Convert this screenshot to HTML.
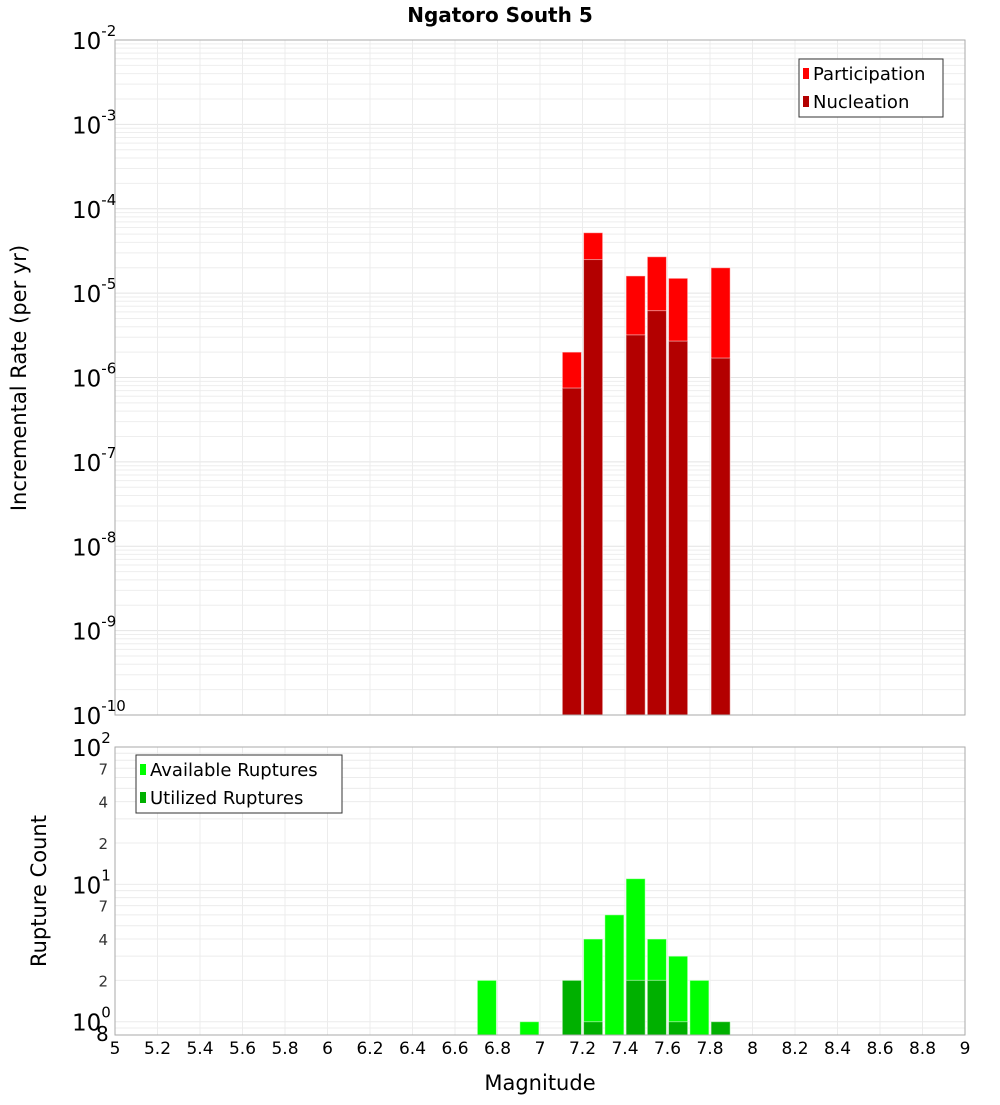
<!DOCTYPE html>
<html><head><meta charset="utf-8"><style>
html,body{margin:0;padding:0;background:#fff;}
svg text{font-family:"DejaVu Sans","Liberation Sans",sans-serif;}
</style></head><body>
<svg id="c" width="1000" height="1100" xmlns="http://www.w3.org/2000/svg">
<text x="500" y="22" text-anchor="middle" font-size="20" font-weight="bold">Ngatoro South 5</text>
<text transform="translate(26,378) rotate(-90)" text-anchor="middle" font-size="21">Incremental Rate (per yr)</text>
<text transform="translate(46,891) rotate(-90)" text-anchor="middle" font-size="21">Rupture Count</text>
<text x="540" y="1090" text-anchor="middle" font-size="21">Magnitude</text>
</svg>
<script>
const partBins=[7.15,7.25,7.45,7.55,7.65,7.85];
const partVals=[2e-6,5.2e-5,1.6e-5,2.7e-5,1.5e-5,2.0e-5];
const nuclBins=[7.15,7.25,7.45,7.55,7.65,7.85];
const nuclVals=[7.5e-7,2.5e-5,3.2e-6,6.2e-6,2.7e-6,1.7e-6];
const availBins=[6.75,6.95,7.15,7.25,7.35,7.45,7.55,7.65,7.75,7.85];
const availVals=[2,1,2,4,6,11,4,3,2,1];
const utilBins=[7.15,7.25,7.45,7.55,7.65,7.85];
const utilVals=[2,1,2,2,1,1];
const xTicks=[5,5.2,5.4,5.6,5.8,6,6.2,6.4,6.6,6.8,7,7.2,7.4,7.6,7.8,8,8.2,8.4,8.6,8.8,9];
const topExps=[-2,-3,-4,-5,-6,-7,-8,-9,-10];
const botExps=[2,1,0];
const botMinor=[2,4,7];

const NS="http://www.w3.org/2000/svg";
const svg=document.getElementById('c');
function el(t,a,p){const e=document.createElementNS(NS,t);for(const k in a)e.setAttribute(k,a[k]);(p||svg).appendChild(e);return e;}
const L=115,R=965;
const X=v=>L+(v-5)/4*(R-L);
const T0=40,T1=715;
const yTop=v=>T0+(-2-Math.log10(v))/8*(T1-T0);
const B0=747,B1=1035,bMin=Math.log10(0.8),bMax=2;
const yBot=v=>B1-(Math.log10(v)-bMin)/(bMax-bMin)*(B1-B0);

// grids
const g=el('g',{});


for(let e=-10;e<-2;e++)for(let m=1;m<10;m++){const y=yTop(m*Math.pow(10,e));el('line',{x1:L,x2:R,y1:y,y2:y,stroke:m==1?'#e4e4e4':'#eeeeee','stroke-width':1},g);}
for(let e=-1;e<2;e++)for(let m=1;m<10;m++){const v=m*Math.pow(10,e);if(v<0.8)continue;const y=yBot(v);el('line',{x1:L,x2:R,y1:y,y2:y,stroke:'#ececec','stroke-width':1},g);}
xTicks.forEach(t=>{const x=X(t);el('line',{x1:x,x2:x,y1:T0,y2:T1,stroke:'#ececec'},g);el('line',{x1:x,x2:x,y1:B0,y2:B1,stroke:'#ececec'},g);});

function bars(bins,vals,yf,base,color,name){
  bins.forEach((b,i)=>{const x0=X(b-0.045),x1=X(b+0.045);const y=yf(vals[i]);
    const r=el('rect',{x:x0,y:y,width:x1-x0,height:base-y,fill:color,stroke:'rgba(255,255,255,0.5)','stroke-width':1});
    
    });
}
bars(partBins,partVals,yTop,T1,'#ff0000','participation-bar');
bars(nuclBins,nuclVals,yTop,T1,'#b30000','nucleation-bar');
bars(availBins,availVals,yBot,B1,'#00ff00','available-bar');
bars(utilBins,utilVals,yBot,B1,'#00b000','utilized-bar');

el('rect',{x:L,y:T0,width:R-L,height:T1-T0,fill:'none',stroke:'#aaa'});
el('rect',{x:L,y:B0,width:R-L,height:B1-B0,fill:'none',stroke:'#aaa'});

// top y labels
topExps.forEach(e=>{const y=yTop(Math.pow(10,e));
  const t=el('text',{x:e==-10?72:72,y:y+9,'font-size':23});
  
  
  t.textContent='10';
  const s=el('tspan',{dy:-13,'font-size':15},t);s.textContent=String(e);});
botExps.forEach(e=>{const y=yBot(Math.pow(10,e));
  const t=el('text',{x:72,y:y+9,'font-size':23});
  
  
  t.textContent='10';
  const s=el('tspan',{dy:-13,'font-size':15},t);s.textContent=String(e);});
[0,1].forEach(e=>botMinor.forEach(m=>{const v=m*Math.pow(10,e);const t=el('text',{x:108,y:yBot(v)+6,'font-size':15,'text-anchor':'end',fill:'#333'});
  
  
  t.textContent=String(m);}));
{const t=el('text',{x:96,y:1041,'font-size':20});
 
 
 t.textContent='8';}
xTicks.forEach(v=>{const t=el('text',{x:X(v),y:1054,'font-size':17,'text-anchor':'middle'});
  
  
  t.textContent=String(v);});

function legend(x,y,w,items,name){
  const gg=el('g',{});
  
  
  el('rect',{x:x,y:y,width:w,height:58,fill:'#fff',stroke:'#333'},gg);
  items.forEach((it,i)=>{const cy=y+14+i*28;
    el('rect',{x:x+4,y:cy-5,width:6,height:11,fill:it[1]},gg);
    const t=el('text',{x:x+14,y:cy+7,'font-size':18},gg);t.textContent=it[0];});
}
legend(799,59,144,[['Participation','#ff0000'],['Nucleation','#b30000']],'top-legend');
legend(136,755,206,[['Available Ruptures','#00ff00'],['Utilized Ruptures','#00b000']],'bottom-legend');
</script>
</body></html>
